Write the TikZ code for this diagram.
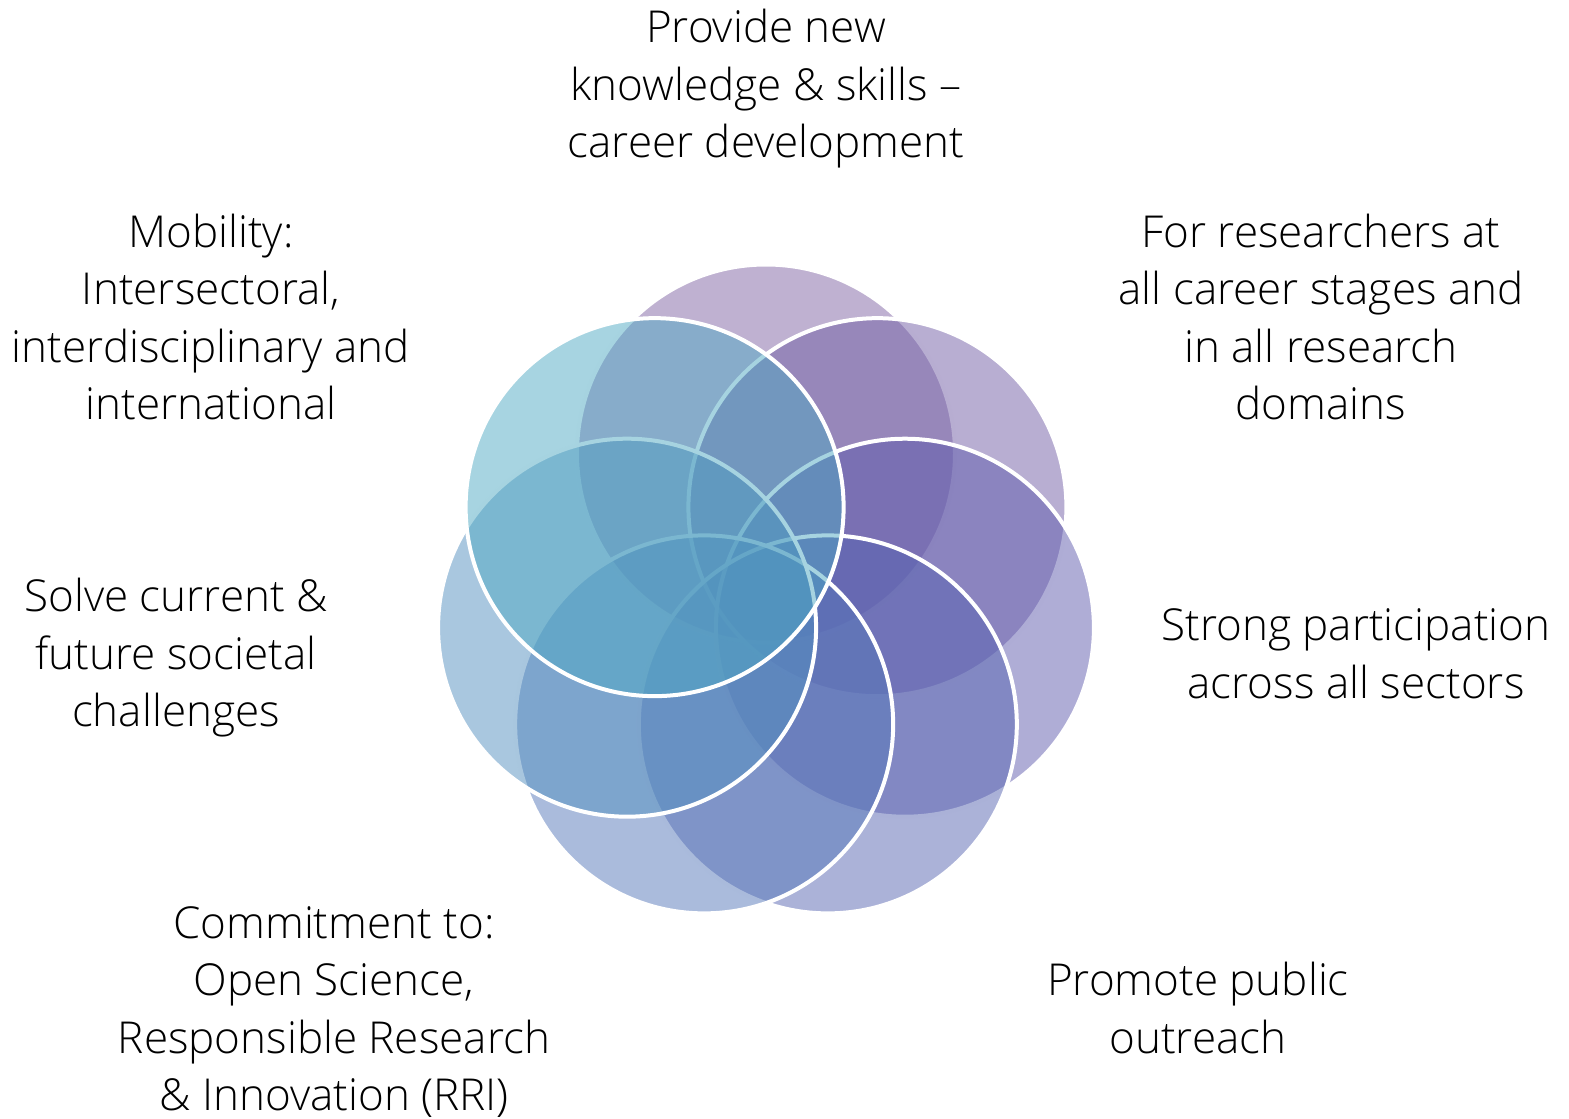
\documentclass[tikz,border=0pt]{standalone}
\usepackage{fontspec}
\setmainfont{Open Sans Light}
\definecolor{petalA}{RGB}{127,99,163}
\definecolor{petalB}{RGB}{113,93,165}
\definecolor{petalC}{RGB}{95,91,173}
\definecolor{petalD}{RGB}{87,101,177}
\definecolor{petalE}{RGB}{85,119,185}
\definecolor{petalF}{RGB}{83,143,191}
\definecolor{petalG}{RGB}{79,169,195}
\tikzset{
  petal/.style={fill=#1,fill opacity=0.5,draw=white,line width=2pt},
  goal/.style={align=center,font=\fontsize{22}{28.75}\selectfont}
}
\begin{document}
\begin{tikzpicture}[x=0.5pt,y=-0.5pt]
        \useasboundingbox (0,0) rectangle (1569,1119);
        % seven petals, clockwise from the top
        \foreach \col [count=\i from 0] in {petalA,petalB,petalC,petalD,petalE,petalF,petalG}
          \draw[petal=\col] (766,596) ++({-90+\i*51.43}:142.5) circle[radius=189];
        \node[goal] (skills) at (766,89) {Provide new\\knowledge \& skills --\\career development};
        \node[goal] (stages) at (1321,317) {For researchers at\\all career stages and\\in all research\\domains};
        \node[goal] (sectors) at (1356,654) {Strong participation\\across all sectors};
        \node[goal] (outreach) at (1198,1008) {Promote public\\outreach};
        \node[goal] (openscience) at (334,1012) {Commitment to:\\Open Science,\\Responsible Research\\\& Innovation (RRI)};
        \node[goal] (society) at (176,658) {Solve current \&\\future societal\\challenges};
        \node[goal] (mobility) at (211,317) {Mobility:\\Intersectoral,\\interdisciplinary and\\international};
      \end{tikzpicture}
\end{document}
